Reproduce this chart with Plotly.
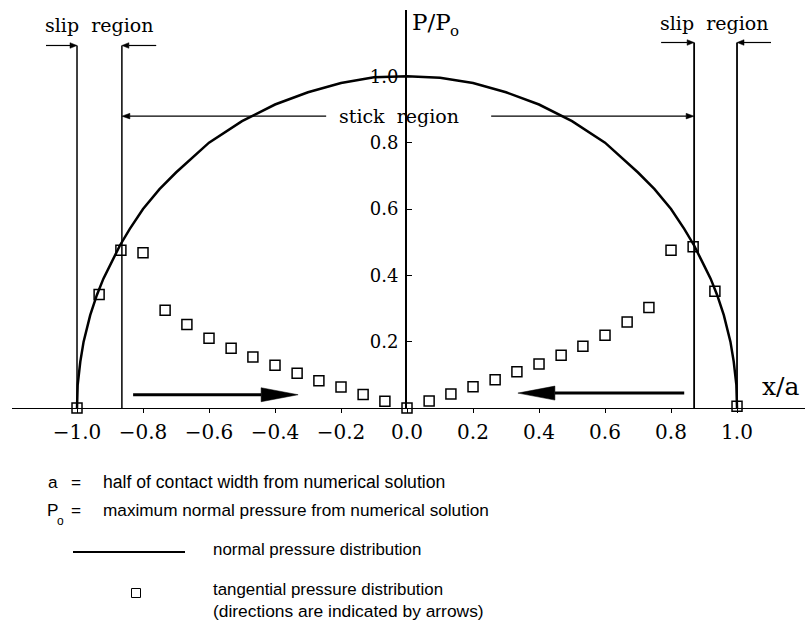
import plotly.graph_objects as go

# Normal pressure distribution P/Po along x/a (solid curve)
normal_x = [-1.0, -0.998, -0.99, -0.98, -0.96, -0.94, -0.92, -0.90, -0.87, -0.84,
            -0.80, -0.75, -0.70, -0.60, -0.50, -0.40, -0.30, -0.20, -0.10, 0.0,
            0.10, 0.20, 0.30, 0.40, 0.50, 0.60, 0.70, 0.75, 0.80, 0.84,
            0.87, 0.90, 0.92, 0.94, 0.96, 0.98, 0.99, 0.998, 1.0]
normal_p = [0.0, 0.07, 0.14, 0.20, 0.28, 0.34, 0.39, 0.43, 0.49, 0.54,
            0.60, 0.66, 0.71, 0.80, 0.865, 0.915, 0.952, 0.98, 0.997, 1.0,
            0.996, 0.98, 0.952, 0.915, 0.865, 0.80, 0.71, 0.66, 0.60, 0.54,
            0.49, 0.43, 0.39, 0.34, 0.28, 0.20, 0.14, 0.07, 0.0]

# Tangential pressure distribution (open squares)
tang_x = [-1.0, -0.933, -0.867, -0.8, -0.733, -0.667, -0.6, -0.533, -0.467, -0.4,
          -0.333, -0.267, -0.2, -0.133, -0.067, 0.0,
          0.067, 0.133, 0.2, 0.267, 0.333, 0.4, 0.467, 0.533, 0.6, 0.667,
          0.733, 0.8, 0.867, 0.933, 1.0]
tang_p = [0.0, 0.342, 0.476, 0.468, 0.295, 0.252, 0.210, 0.180, 0.154, 0.129,
          0.105, 0.082, 0.063, 0.041, 0.020, 0.0,
          0.021, 0.042, 0.064, 0.085, 0.109, 0.133, 0.159, 0.186, 0.219, 0.259,
          0.303, 0.476, 0.486, 0.352, 0.005]

# Slip / stick boundaries (x/a)
slip_left = [-1.0, -0.864]
slip_right = [0.87, 1.0]
slip_top_left = 1.093
slip_top_right = 1.102
slip_arrow_tails = [-1.094, -0.76, 0.77, 1.103]
stick_y = 0.88
stick_gap = [-0.245, 0.255]

# Direction arrows of tangential traction: (tail, tip, level)
dir_arrows = [(-0.83, -0.33, 0.040), (0.84, 0.336, 0.045)]

x_ticks = [-1.0, -0.8, -0.6, -0.4, -0.2, 0.0, 0.2, 0.4, 0.6, 0.8, 1.0]
x_tick_text = ["\u22121.0", "\u22120.8", "\u22120.6", "\u22120.4", "\u22120.2",
               "0.0", "0.2", "0.4", "0.6", "0.8", "1.0"]
y_ticks = [0.2, 0.4, 0.6, 0.8, 1.0]
y_tick_text = ["0.2", "0.4", "0.6", "0.8", "1.0"]

X_RANGE = [-1.197, 1.206]
Y_RANGE = [0.0, 1.2]
SERIF = "DejaVu Serif"
SANS = "Liberation Sans"

PLOT_L, PLOT_W, PLOT_B, PLOT_H = 12, 793, 408, 398
XPX = PLOT_W / (X_RANGE[1] - X_RANGE[0])   # pixels per x unit
YPX = PLOT_H / (Y_RANGE[1] - Y_RANGE[0])   # pixels per y unit

fig = go.Figure()

fig.add_trace(go.Scatter(
    x=normal_x, y=normal_p, mode="lines",
    line=dict(color="black", width=2.5), cliponaxis=False,
    name="normal pressure distribution"))

fig.add_trace(go.Scatter(
    x=tang_x, y=tang_p, mode="markers",
    marker=dict(symbol="square-open", size=10, color="black", line=dict(width=1.5)),
    cliponaxis=False, name="tangential pressure distribution"))

shapes = []
annotations = []

# slip boundary verticals
for xv in slip_left:
    shapes.append(dict(type="line", xref="x", yref="y", x0=xv, x1=xv,
                       y0=0, y1=slip_top_left, line=dict(color="black", width=1.5)))
for xv in slip_right:
    shapes.append(dict(type="line", xref="x", yref="y", x0=xv, x1=xv,
                       y0=0, y1=slip_top_right, line=dict(color="black", width=1.8)))


def arrow(tail, tip, yv, shaft, head_len_px, head_half_px):
    sgn = 1 if tip > tail else -1
    base = tip - sgn * head_len_px / XPX
    half = head_half_px / YPX
    shapes.append(dict(type="line", xref="x", yref="y", x0=tail, x1=base, y0=yv, y1=yv,
                       line=dict(color="black", width=shaft)))
    shapes.append(dict(type="path", xref="x", yref="y",
                       path=f"M {base},{yv - half} L {tip},{yv} L {base},{yv + half} Z",
                       fillcolor="black", line=dict(color="black", width=0.5)))


tips = slip_left + slip_right
levels = [slip_top_left, slip_top_left, slip_top_right, slip_top_right]
for tail, tip, yv in zip(slip_arrow_tails, tips, levels):
    arrow(tail, tip, yv, 1.2, 7, 2.8)
arrow(stick_gap[0], slip_left[1], stick_y, 1.1, 8, 2.8)
arrow(stick_gap[1], slip_right[0], stick_y, 1.1, 8, 2.8)

for xc, yc in [(-0.933, 1.155), (0.930, 1.16)]:
    annotations.append(dict(x=xc, y=yc, xref="x", yref="y", text="slip\u00a0\u00a0region",
                            showarrow=False, font=dict(family=SERIF, size=19, color="black")))
annotations.append(dict(x=-0.025, y=stick_y, xref="x", yref="y", text="stick\u00a0\u00a0region",
                        showarrow=False, font=dict(family=SERIF, size=19, color="black")))

# bold direction arrows
for tail, tip, yv in dir_arrows:
    arrow(tail, tip, yv, 3, 37, 7)


# text placed in pixel terms
def px(xp):
    return (xp - PLOT_L) / PLOT_W


def py(yp):
    return (PLOT_B - yp) / PLOT_H


def label(text, xp, yp, size, family):
    annotations.append(dict(x=px(xp), y=py(yp), xref="paper", yref="paper",
                            xanchor="left", yanchor="middle", text=text, showarrow=False,
                            font=dict(family=family, size=size, color="black")))


# axis titles
label("P/P", 410, 22, 23, SERIF)
label("o", 448, 31, 15, SERIF)
label("x/a", 760, 386, 25, SERIF)

# key below the plot
label("a", 46, 482, 17.2, SANS)
label("=", 69, 482, 17.2, SANS)
label("half of contact width from numerical solution", 101, 482, 17.6, SANS)
label("P", 45, 510, 17.2, SANS)
label("o", 55, 521, 12, SANS)
label("=", 69, 510, 17.2, SANS)
label("maximum normal pressure from numerical solution", 101, 510, 17.2, SANS)
label("normal pressure distribution", 211, 549, 16.9, SANS)
label("tangential pressure distribution", 211, 589, 16.9, SANS)
label("(directions are indicated by arrows)", 211, 611, 17.4, SANS)

shapes.append(dict(type="line", xref="paper", yref="paper", x0=px(73), x1=px(185),
                   y0=py(552), y1=py(552), line=dict(color="black", width=2)))
shapes.append(dict(type="rect", xref="paper", yref="paper", x0=px(131.5), x1=px(140.5),
                   y0=py(597.5), y1=py(588.5), line=dict(color="black", width=1)))

fig.update_layout(
    width=808, height=626,
    margin=dict(l=PLOT_L, r=808 - PLOT_L - PLOT_W, t=10, b=626 - PLOT_B),
    paper_bgcolor="white", plot_bgcolor="white",
    showlegend=False,
    shapes=shapes, annotations=annotations,
    xaxis=dict(range=X_RANGE, showgrid=False, zeroline=False,
               showline=True, linecolor="black", linewidth=1,
               ticks="outside", ticklen=4, tickcolor="black", tickwidth=1,
               tickvals=x_ticks, ticktext=x_tick_text, ticklabelstandoff=2,
               tickfont=dict(family=SERIF, size=20, color="black")),
    yaxis=dict(range=Y_RANGE, showgrid=False, zeroline=False,
               anchor="free", position=px(406),
               showline=True, linecolor="black", linewidth=2,
               ticks="inside", ticklen=5, tickcolor="black", tickwidth=1,
               tickvals=y_ticks, ticktext=y_tick_text, ticklabelstandoff=3,
               tickfont=dict(family=SERIF, size=18, color="black")),
)

fig.write_html("out.html")
